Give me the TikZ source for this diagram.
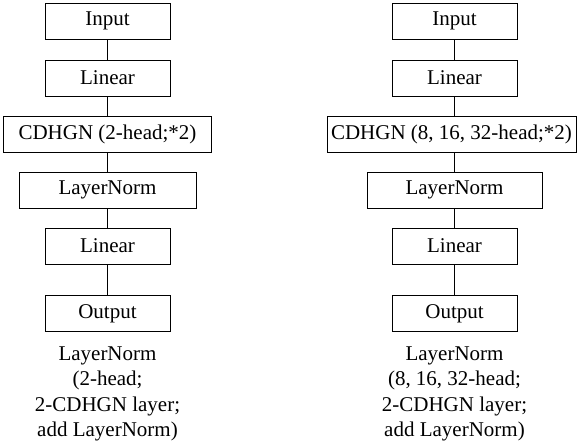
\documentclass[tikz,border=0pt]{standalone}
\usepackage{fontspec}
\setmainfont{Liberation Serif}
\usepackage{tikz}
\tikzset{block/.style={draw, line width=0.8pt, minimum height=36pt, minimum width=125pt,
    inner sep=0pt, font=\fontsize{21}{25}\selectfont},
  link/.style={line width=0.8pt},
  caption/.style={align=center, font=\fontsize{21}{25.5}\selectfont}
}

\begin{document}
\begin{tikzpicture}[x=1pt, y=-1pt]
      \useasboundingbox (0,0) rectangle (577,447);
      % left column
      \node[block] (inA) at (107.5,21) {Input};
      \node[block] (linA) at (107.5,78) {Linear};
      \node[block, minimum width=208pt] (cdA) at (107.5,134) {CDHGN (2-head;*2)};
      \node[block, minimum width=177pt] (lnA) at (107.5,190) {LayerNorm};
      \node[block] (linA2) at (107.5,246) {Linear};
      \node[block] (outA) at (107.5,313.5) {Output};
      \node[caption] (capA) at (107.5,394) {LayerNorm\\(2-head;\\2-CDHGN layer;\\add LayerNorm)};
      \draw[link] (inA) -- (linA) -- (cdA) -- (lnA) -- (linA2) -- (outA);
      % right column
      \node[block] (inB) at (454.5,21) {Input};
      \node[block] (linB) at (454.5,78) {Linear};
      \node[block, minimum width=249pt] (cdB) at (451.5,134) {CDHGN (8, 16, 32-head;*2)};
      \node[block, minimum width=175pt] (lnB) at (454.5,190) {LayerNorm};
      \node[block] (linB2) at (454.5,246) {Linear};
      \node[block] (outB) at (454.5,313.5) {Output};
      \node[caption] (capB) at (454.5,394) {LayerNorm\\(8, 16, 32-head;\\2-CDHGN layer;\\add LayerNorm)};
      \draw[link] (inB) -- (linB) -- (cdB.north -| linB) (cdB.south -| lnB) -- (lnB) -- (linB2) -- (outB);
    \end{tikzpicture}
\end{document}
